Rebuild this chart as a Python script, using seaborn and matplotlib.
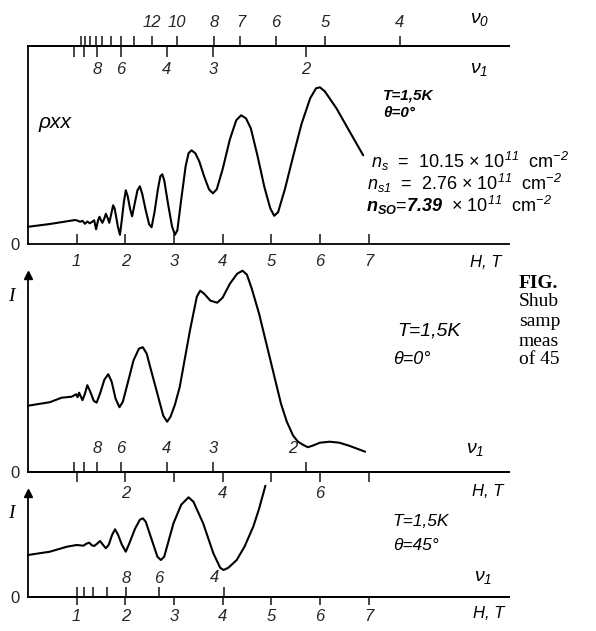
import numpy as np
import pandas as pd
import matplotlib
matplotlib.use("Agg")
import matplotlib.pyplot as plt
import seaborn as sns

# ---------------- data ----------------
# rho_xx(H), T = 1.5 K, theta = 0 deg  (arbitrary units)
H_rho = [0.00, 0.45, 0.97, 1.03, 1.07, 1.12, 1.17, 1.22, 1.27, 1.32, 1.36, 1.40,
         1.44, 1.47, 1.50, 1.53, 1.57, 1.60, 1.64, 1.67, 1.71, 1.75, 1.78, 1.81,
         1.85, 1.89, 1.93, 1.97, 2.01, 2.05, 2.10, 2.14, 2.19, 2.25, 2.30, 2.35,
         2.42, 2.49, 2.54, 2.60, 2.67, 2.72, 2.76, 2.80, 2.88, 2.96, 3.02, 3.07,
         3.15, 3.24, 3.30, 3.36, 3.44, 3.52, 3.62, 3.72, 3.80, 3.88, 4.00, 4.15,
         4.28, 4.38, 4.48, 4.58, 4.72, 4.86, 4.98, 5.06, 5.14, 5.28, 5.45, 5.62,
         5.80, 5.92, 6.00, 6.10, 6.34, 6.62, 6.89]
rho = [17.5, 20.3, 24.3, 23.5, 22.5, 23.5, 20.5, 22.8, 21.0, 22.5, 24.0, 15.0,
       24.0, 27.5, 24.0, 21.5, 26.0, 30.5, 26.0, 21.5, 30.0, 39.0, 36.0, 28.0,
       17.0, 9.5, 25.0, 42.0, 54.0, 48.0, 35.0, 28.0, 40.0, 54.0, 58.0, 50.0,
       34.0, 20.0, 17.0, 32.0, 55.0, 68.0, 70.0, 64.0, 40.0, 18.0, 9.5, 14.0,
       45.0, 78.0, 91.0, 94.0, 91.0, 83.0, 68.0, 55.0, 51.0, 55.0, 75.0, 105.0,
       124.0, 129.0, 126.0, 116.0, 88.0, 57.0, 36.0, 28.5, 32.0, 55.0, 88.0, 120.0,
       146.0, 156.0, 157.0, 153.0, 136.0, 112.0, 89.0]

# I(H), T = 1.5 K, theta = 0 deg
H_I0 = [0.00, 0.45, 0.69, 0.90, 0.99, 1.02, 1.05, 1.12, 1.17, 1.22, 1.28, 1.35,
        1.41, 1.48, 1.57, 1.65, 1.72, 1.80, 1.88, 1.95, 2.03, 2.17, 2.28, 2.36,
        2.44, 2.51, 2.64, 2.78, 2.86, 2.93, 3.02, 3.12, 3.22, 3.33, 3.47, 3.54,
        3.62, 3.75, 3.89, 4.00, 4.15, 4.30, 4.41, 4.50, 4.60, 4.75, 4.90, 5.05,
        5.20, 5.32, 5.45, 5.55, 5.65, 5.75, 5.85, 6.00, 6.20, 6.40, 6.60, 6.93]
I0 = [66.0, 69.5, 74.0, 75.0, 77.5, 74.5, 79.0, 71.5, 78.0, 86.5, 80.0, 71.0,
      69.0, 78.0, 92.0, 97.5, 90.0, 73.0, 64.5, 70.0, 85.0, 111.5, 123.0, 124.5,
      118.0, 105.0, 81.5, 56.0, 50.0, 55.0, 67.0, 85.0, 112.0, 141.5, 175.0, 181.0,
      178.0, 171.0, 169.0, 174.0, 188.0, 198.0, 201.0, 197.0, 183.0, 158.0, 128.0, 98.0,
      68.0, 50.0, 36.0, 30.0, 27.0, 24.5, 26.0, 29.0, 30.0, 29.0, 26.0, 20.0]

# I(H), T = 1.5 K, theta = 45 deg
H_I45 = [0.00, 0.45, 0.80, 1.00, 1.14, 1.20, 1.26, 1.31, 1.36, 1.42, 1.48, 1.54,
         1.60, 1.66, 1.73, 1.79, 1.85, 1.93, 2.01, 2.08, 2.20, 2.30, 2.36, 2.42,
         2.55, 2.66, 2.73, 2.80, 2.99, 3.15, 3.30, 3.40, 3.60, 3.81, 3.95, 4.02,
         4.12, 4.29, 4.45, 4.63, 4.75, 4.88]
I45 = [41.7, 45.0, 50.0, 51.7, 51.0, 53.0, 54.0, 51.5, 50.7, 53.0, 55.7, 52.0,
       48.4, 52.0, 62.0, 67.4, 62.0, 52.0, 45.0, 53.0, 68.0, 77.0, 78.4, 75.0,
       56.0, 40.0, 36.7, 40.0, 73.4, 92.0, 99.4, 95.0, 73.4, 43.4, 29.0, 26.7,
       29.0, 36.7, 50.0, 70.0, 88.0, 111.0]

H_ticks = [1, 2, 3, 4, 5, 6, 7]
H_labels_full = ["1", "2", "3", "4", "5", "6", "7"]
H_labels_even = ["", "2", "", "4", "", "6", ""]

nu0_values = [4, 5, 6, 7, 8, 10, 12, 14, 16, 18, 20, 22, 24, 26, 28]
nu0_labels = ["4", "5", "6", "7", "8", "10", "12", "", "", "", "", "", "", "", ""]
nu1_values = [2, 3, 4, 6, 8, 10, 12]
nu1_labels = ["2", "3", "4", "6", "8", "", ""]
nu1_45_values = [4, 6, 8, 10, 12, 14, 16]
nu1_45_labels = ["4", "6", "8", "", "", "", ""]

# labels that sit to the left of their tick (curve passes over the tick)
nu1_left_label = 2
nu1_45_left_label = 4

n_s0 = 7.39   # 1e11 cm^-2
n_s1 = 2.76   # 1e11 cm^-2
theta_deg = 45
H_OVER_E = 4.1357  # h/e, T per 1e11 cm^-2 (unit factor folded in)

caption_lines = ["FIG.", "Shub", "samp", "meas", "of 45"]


def nu_to_H(n, nus, theta=0.0):
    return [n * H_OVER_E / v / np.cos(np.radians(theta)) for v in nus]


# ---------------- style ----------------
sns.set_theme(style="white")
plt.rcParams["font.family"] = ["Liberation Sans Narrow", "Liberation Sans", "DejaVu Sans"]
plt.rcParams["font.style"] = "italic"
plt.rcParams["axes.edgecolor"] = "black"
plt.rcParams["axes.linewidth"] = 1.3
plt.rcParams["mathtext.fontset"] = "custom"
plt.rcParams["mathtext.rm"] = "Liberation Sans"
plt.rcParams["mathtext.it"] = "Liberation Sans:italic"
plt.rcParams["mathtext.bf"] = "Liberation Sans:bold:italic"

W, HH = 596, 631
fig = plt.figure(figsize=(W / 100, HH / 100), dpi=100)


def rect(x0, y_top, x1, y_bot):
    return [x0 / W, 1 - y_bot / HH, (x1 - x0) / W, (y_bot - y_top) / HH]


def ftext(x, y, s, **kw):
    kw.setdefault("ha", "left")
    kw.setdefault("va", "center")
    kw.setdefault("color", "black")
    fig.text(x / W, 1 - y / HH, s, **kw)


XMAX = 9.887
DIG = 12

ax1 = fig.add_axes(rect(28, 46.5, 509, 244.3))
ax2 = fig.add_axes(rect(28, 275, 509, 471.7))
ax3 = fig.add_axes(rect(28, 493, 509, 596.7))

df1 = pd.DataFrame({"H": H_rho, "v": rho})
df2 = pd.DataFrame({"H": H_I0, "v": I0})
df3 = pd.DataFrame({"H": H_I45, "v": I45})

for ax, df, top in [(ax1, df1, 197.8), (ax2, df2, 196.7), (ax3, df3, 103.7)]:
    sns.lineplot(data=df, x="H", y="v", ax=ax, color="black", lw=1.5,
                 estimator=None, sort=False, clip_on=False)
    ax.set_xlim(0, XMAX)
    ax.set_ylim(0, top)
    ax.set_xlabel("")
    ax.set_ylabel("")
    ax.set_facecolor("none")
    ax.spines["right"].set_visible(False)
    ax.spines["top"].set_visible(False)
    ax.set_yticks([0], labels=["0"])
    ax.tick_params(axis="y", left=False, length=0, pad=6, labelsize=DIG)
    for t in ax.get_yticklabels():
        t.set_fontstyle("normal")

# ---- panel 1 ----
ax1.set_xticks(H_ticks, labels=H_labels_full)
ax1.tick_params(axis="x", bottom=True, direction="in", length=7, width=1.2,
                pad=7, labelsize=DIG)

sec0 = ax1.secondary_xaxis("top")
sec0.set_xticks(nu_to_H(n_s0, nu0_values), labels=nu0_labels)
sec0.tick_params(axis="x", direction="out", length=7, width=1.2, pad=5, labelsize=DIG)
sec0.spines["top"].set_linewidth(1.3)

sec1 = ax1.secondary_xaxis("top")
sec1.set_alignment("bottom")
sec1.set_xticks(nu_to_H(n_s1, nu1_values), labels=nu1_labels)
sec1.tick_params(axis="x", direction="out", length=8, width=1.2, pad=3, labelsize=DIG)

# ---- panel 2 ----
ax2.set_xticks(H_ticks, labels=H_labels_even)
ax2.tick_params(axis="x", bottom=True, direction="out", length=7, width=1.2,
                pad=3, labelsize=DIG)
sec2 = ax2.secondary_xaxis("bottom")
sec2.set_alignment("top")
sec2.set_xticks(nu_to_H(n_s1, nu1_values),
                labels=["" if v == nu1_left_label else l
                        for v, l in zip(nu1_values, nu1_labels)])
sec2.tick_params(axis="x", direction="out", length=7, width=1.2, pad=4, labelsize=DIG)
ax2.annotate(str(nu1_left_label), xy=(nu_to_H(n_s1, [nu1_left_label])[0], 0),
             xycoords=("data", "axes fraction"), xytext=(-6, 17),
             textcoords="offset points", ha="right", va="center", fontsize=DIG)

# ---- panel 3 ----
ax3.set_xticks(H_ticks, labels=H_labels_full)
ax3.tick_params(axis="x", bottom=True, direction="out", length=6, width=1.2,
                pad=3, labelsize=DIG)
sec3 = ax3.secondary_xaxis("bottom")
sec3.set_alignment("top")
sec3.set_xticks(nu_to_H(n_s1, nu1_45_values, theta_deg),
                labels=["" if v == nu1_45_left_label else l
                        for v, l in zip(nu1_45_values, nu1_45_labels)])
sec3.tick_params(axis="x", direction="out", length=7, width=1.2, pad=1, labelsize=DIG)
ax3.annotate(str(nu1_45_left_label),
             xy=(nu_to_H(n_s1, [nu1_45_left_label], theta_deg)[0], 0),
             xycoords=("data", "axes fraction"), xytext=(-3.5, 14),
             textcoords="offset points", ha="right", va="center", fontsize=DIG)

for ax in (ax2, ax3):
    ax.plot([0], [1], marker="^", ms=6, color="black", transform=ax.transAxes,
            clip_on=False)

# ---------------- texts ----------------
ftext(39, 122, "ρxx", fontsize=15)
ftext(383, 95, "T=1,5K", fontsize=11, fontweight="bold")
ftext(383, 113, "θ=0°", fontsize=11, fontweight="bold")
ns_kw = dict(fontsize=13, fontstyle="normal", family="Liberation Sans")
ftext(371, 161, r"$n_s$  =  10.15 × 10$^{11}$  cm$^{-2}$", **ns_kw)
ftext(367, 183, r"$n_{s1}$  =  2.76 × 10$^{11}$  cm$^{-2}$", **ns_kw)
ftext(366, 205, r"$\mathbf{n_{SO}}$=$\mathbf{7.39}$  × 10$^{11}$  cm$^{-2}$", **ns_kw)
ftext(470, 263, "H, T", fontsize=DIG)
ftext(470, 20, r"$\nu_0$", fontsize=14)
ftext(470, 70, r"$\nu_1$", fontsize=14)

ftext(8, 297, "I", fontsize=14, family="Liberation Serif")
ftext(397, 331, "T=1,5K", fontsize=14)
ftext(393, 360, "θ=0°", fontsize=13)
ftext(466, 450, r"$\nu_1$", fontsize=14)
ftext(472, 492, "H, T", fontsize=DIG)

ftext(8, 513, "I", fontsize=14, family="Liberation Serif")
ftext(392, 521, "T=1,5K", fontsize=12.5)
ftext(393, 545, "θ=45°", fontsize=12.5)
ftext(474, 577, r"$\nu_1$", fontsize=14)
ftext(473, 613, "H, T", fontsize=DIG)

cap = dict(fontsize=14, family="Liberation Serif", fontstyle="normal")
for i, (yy, line) in enumerate(zip([283, 302, 322, 341, 360], caption_lines)):
    ftext(519, yy, line, fontweight="bold" if i == 0 else "normal", **cap)

fig.savefig("out.png", dpi=100)
